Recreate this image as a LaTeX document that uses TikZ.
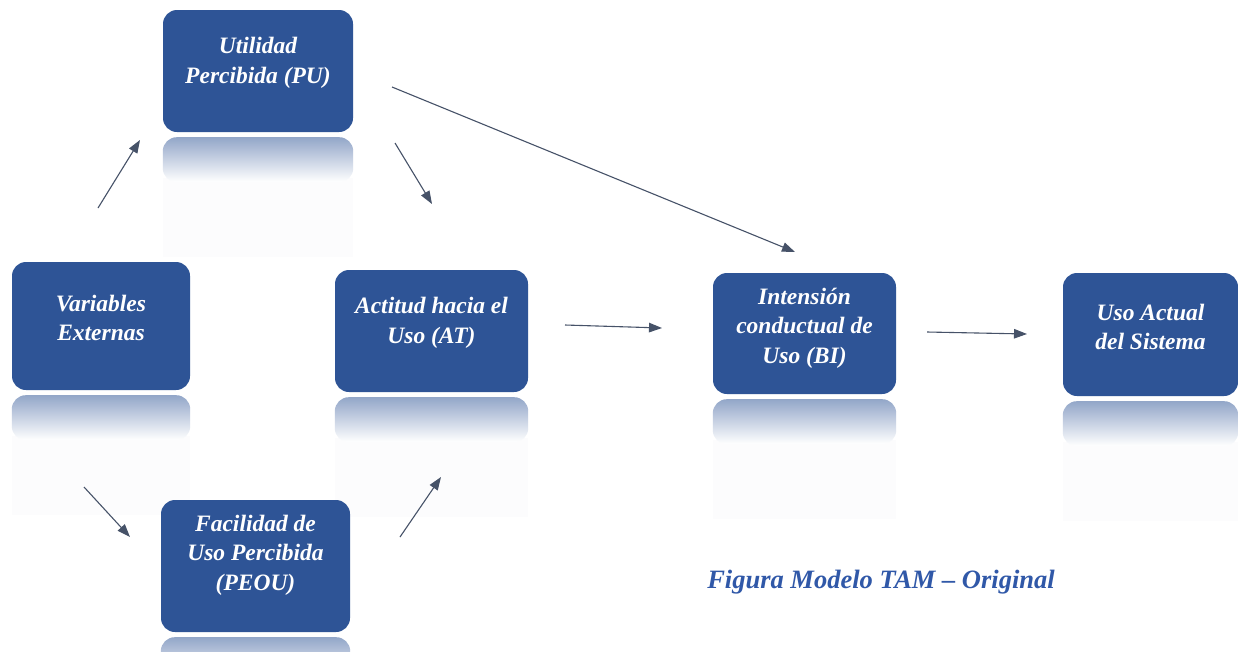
\documentclass[tikz,border=0pt]{standalone}
\usepackage{fontspec}
\setmainfont{Liberation Serif}
\usetikzlibrary{arrows.meta,backgrounds}
\definecolor{boxblue}{RGB}{46,84,150}
\definecolor{capblue}{RGB}{48,88,168}
\definecolor{arrowgray}{RGB}{70,82,104}
\newcommand\tamrefl[1]{%
  \fill[reflB] ([yshift=-46pt]#1.south west) rectangle ([yshift=-125pt]#1.south east);
  \shade[reflA] ([yshift=-5pt]#1.south west) rectangle ([yshift=-50pt]#1.south east);}
\begin{document}
\begin{tikzpicture}[x=1pt,y=-1pt,
  tambox/.style={rectangle, rounded corners=14pt, fill=boxblue, inner sep=0pt},
  tamtext/.style={text=white, font=\fontsize{23.5}{29.5}\selectfont\bfseries\itshape, align=center, inner sep=0pt},
  reflA/.style={top color=boxblue!52!white, bottom color=white, rounded corners=14pt},
  reflB/.style={fill=boxblue!1.5},
  flow/.style={draw=arrowgray, line width=1.1pt, -{Triangle[length=13pt,width=9.5pt]}},
]
\useasboundingbox (0,0) rectangle (1238,651);

% boxes
\node[tambox, minimum width=190pt, minimum height=122pt] (PU)   at (258,71) {};
\node[tambox, minimum width=178pt, minimum height=128pt] (VE)   at (101,326) {};
\node[tambox, minimum width=193pt, minimum height=122pt] (AT)   at (431.5,331) {};
\node[tambox, minimum width=183pt, minimum height=121pt] (BI)   at (804.5,333.5) {};
\node[tambox, minimum width=175pt, minimum height=123pt] (UA)   at (1150.5,334.5) {};
\node[tambox, minimum width=189pt, minimum height=132pt] (PEOU) at (255.5,566) {};

% reflections (behind the boxes)
\begin{pgfonlayer}{background}
\fill[white] (0,0) rectangle (1238,651);
\tamrefl{PU}
\tamrefl{VE}
\tamrefl{AT}
\tamrefl{BI}
\tamrefl{UA}
\tamrefl{PEOU}
\end{pgfonlayer}

% texts
\node[tamtext] (PUt)   at (258,63)   {Utilidad\\Percibida (PU)};
\node[tamtext] (VEt)   at (101,318)  {Variables\\Externas};
\node[tamtext] (ATt)   at (431.5,323) {Actitud hacia el\\Uso (AT)};
\node[tamtext] (BIt)   at (804.5,328) {Intensión\\conductual de\\Uso (BI)};
\node[tamtext] (UAt)   at (1150.5,327) {Uso Actual\\del Sistema};
\node[tamtext] (PEOUt) at (255.5,555) {Facilidad de\\Uso Percibida\\(PEOU)};

% arrow end points
\coordinate (a1s) at (98,208);  \coordinate (a1e) at (140,140);
\coordinate (a2s) at (395,143); \coordinate (a2e) at (432,204);
\coordinate (a3s) at (392,87);  \coordinate (a3e) at (795,252);
\coordinate (a4s) at (565,325); \coordinate (a4e) at (662,328);
\coordinate (a5s) at (927,332); \coordinate (a5e) at (1027,334);
\coordinate (a6s) at (84,487);  \coordinate (a6e) at (130,537);
\coordinate (a7s) at (400,537); \coordinate (a7e) at (441,477);

\draw[flow] (a1s) -- (a1e);
\draw[flow] (a2s) -- (a2e);
\draw[flow] (a3s) -- (a3e);
\draw[flow] (a4s) -- (a4e);
\draw[flow] (a5s) -- (a5e);
\draw[flow] (a6s) -- (a6e);
\draw[flow] (a7s) -- (a7e);

% caption
\node[anchor=base, inner sep=0pt, text=capblue, font=\fontsize{26.5}{30}\selectfont\bfseries\itshape] (cap) at (881,588) {Figura Modelo TAM – Original};
\end{tikzpicture}
\end{document}
